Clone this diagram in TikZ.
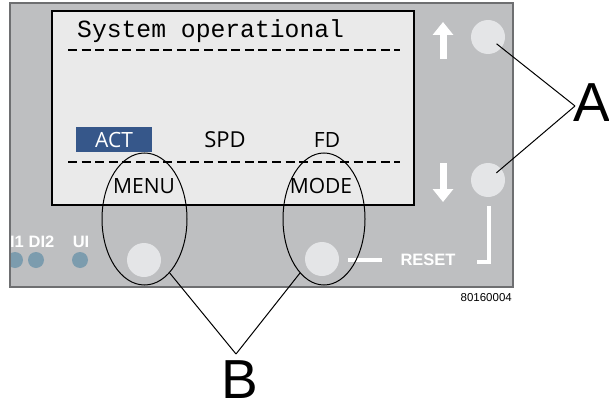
\documentclass[tikz,border=0pt]{standalone}
\usepackage{fontspec}
\setmainfont{Liberation Sans}
\newfontfamily\lcdmono{Liberation Mono}
\newfontfamily\lcdsans{Open Sans}
\usetikzlibrary{arrows.meta, shapes.geometric}

\definecolor{panelgray}{HTML}{BEBFC1}
\definecolor{paneledge}{HTML}{6E6F71}
\definecolor{screengray}{HTML}{EAEAEA}
\definecolor{btngray}{HTML}{E4E5E7}
\definecolor{ledblue}{HTML}{7C9CAE}
\definecolor{actblue}{HTML}{36578A}

\begin{document}
\begin{tikzpicture}[x=1pt, y=-1pt, >={Triangle[width=20pt, length=13pt]},
    keybtn/.style={circle, fill=btngray, minimum size=34pt, inner sep=0pt},
    led/.style={circle, fill=ledblue, minimum size=16pt, inner sep=0pt},
    ring/.style={ellipse, draw=black, line width=1pt, minimum width=85pt, minimum height=132pt, inner sep=0pt},
    lcdtext/.style={font=\lcdsans\fontsize{21}{21}\selectfont, inner sep=0pt, anchor=base},
    paneltext/.style={font=\bfseries\fontsize{16.5}{16.5}\selectfont, text=white, inner sep=0pt, anchor=base},
    callout/.style={draw=black, line width=1pt},
    letter/.style={font=\fontsize{55}{55}\selectfont, inner sep=0pt}]

    \useasboundingbox (0,0) rectangle (609,406);

    % -------------------------------------------------------
    % 1. Front panel and display
    % -------------------------------------------------------
    \fill[panelgray] (10,3) rectangle (513,287);
    \fill[screengray] (52,11) rectangle (414,205);
    \draw[black, line width=2.5pt] (52,11) rectangle (414,205);

    % display contents
    \node[font=\lcdmono\fontsize{24.7}{24.7}\selectfont, inner sep=0pt, anchor=base west]
        (status) at (77,38) {System operational};
    \draw[line width=2pt, dash pattern=on 9pt off 4.6pt] (68,50) -- (400,50);
    \draw[line width=2pt, dash pattern=on 9pt off 4.6pt] (68,162) -- (400,162);

    \fill[actblue] (76,127) rectangle (152,152);
    \node[lcdtext, text=white] (act) at (114,147) {ACT};
    \node[lcdtext, font=\lcdsans\fontsize{22}{22}\selectfont] (spd) at (225,147) {SPD};
    \node[lcdtext] (fd)  at (327,147) {FD};
    \node[lcdtext] (menu) at (144,193) {MENU};
    \node[lcdtext] (mode) at (321,193) {MODE};

    % -------------------------------------------------------
    % 2. Keys, LEDs and panel markings
    % -------------------------------------------------------
    \node[keybtn] (btnup)   at (488,37)  {};
    \node[keybtn] (btndown) at (488,180) {};
    \node[keybtn] (btnmenu) at (144,260) {};
    \node[keybtn] (btnmode) at (322,259) {};

    \draw[->, white, line width=7pt] (443,59) -- (443,22);
    \draw[->, white, line width=7pt] (443,163) -- (443,202);

    % reset bracket
    \draw[white, line width=4pt] (348,260) -- (382,260);
    \draw[white, line width=4pt] (477,262) -- (489,262) -- (489,206);
    \node[paneltext] (reset) at (428,265) {RESET};

    \begin{scope}
        \clip (10,3) rectangle (513,287);
        \node[led] (led1) at (15,260) {};
        \node[led] (led2) at (36,260) {};
        \node[led] (led3) at (80,260) {};
        \node[paneltext] (lbl1) at (17,247) {I1};
        \node[paneltext] (lbl2) at (41.5,247) {DI2};
        \node[paneltext] (lbl3) at (81,247) {UI};
    \end{scope}

    \draw[paneledge, line width=1.2pt] (10,3) rectangle (513,287);
    \node[font=\fontsize{11.5}{11.5}\selectfont, inner sep=0pt, anchor=base east]
        (partno) at (512,301) {80160004};

    % -------------------------------------------------------
    % 3. Callouts
    % -------------------------------------------------------
    \node[ring] (menuring) at (144.5,219) {};
    \node[ring, minimum width=82pt] (modering) at (324,219) {};

    \coordinate (apexA) at (575,106);
    \coordinate (apexB) at (236,354);
    \draw[callout, shorten >=11pt] (apexA) -- (btnup.center);
    \draw[callout, shorten >=11pt] (apexA) -- (btndown.center);
    \draw[callout] (apexB) -- (menuring.-65);
    \draw[callout] (apexB) -- (modering.-114);

    \node[letter, anchor=base west] (labelA) at (573,122) {A};
    \node[letter, anchor=base] (labelB) at (240,398) {B};
\end{tikzpicture}
\end{document}
